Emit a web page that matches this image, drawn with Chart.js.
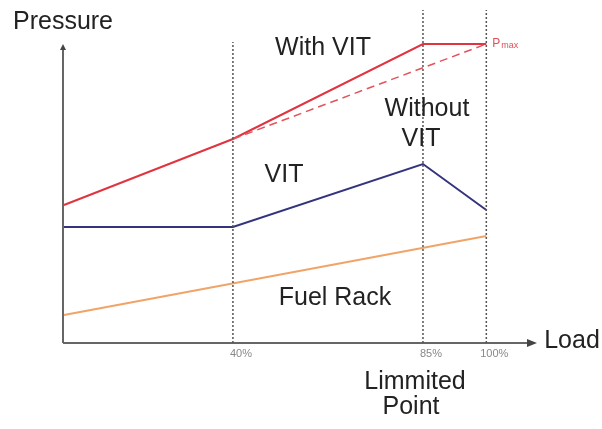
<!DOCTYPE html>
<html>
<head>
<meta charset="utf-8">
<script src="https://cdn.jsdelivr.net/npm/chart.js@4"></script>
<style>
  html, body { margin: 0; padding: 0; background: #fff; }
  #wrap { width: 602px; height: 429px; position: relative; }
</style>
</head>
<body>
<div id="wrap"><canvas id="graph"></canvas></div>
<script>
// load in %, pressure in arbitrary units (0 = load axis)
const loadWithVit = [0, 40, 85, 100];
const pressWithVit = [138, 204, 299, 299];
const loadWithoutVit = [40, 100];
const pressWithoutVit = [204, 299];
const loadVit = [0, 40, 85, 100];
const valueVit = [116, 116, 179, 133];
const loadRack = [0, 100];
const valueRack = [28, 107];
const markLoads = [40, 85, 100];
const markTops = [301, 333, 333];
const tickLabels = ['40%', '85%', '100%'];

const FONT = '"Liberation Sans", Arial, sans-serif';

function pts(xs, ys) {
    return xs.map((x, i) => ({x: x, y: ys[i]}));
}

const guides = markLoads.map((x, i) => ({
    data: [{x: x, y: 0}, {x: x, y: markTops[i]}],
    borderColor: '#555',
    borderWidth: 1.5,
    borderDash: [2, 2],
}));

const decorations = {
    id: 'decorations',
    beforeDatasetsDraw(chart) {
        const c = chart.ctx;
        const xs = chart.scales.x, ys = chart.scales.y;
        const x0 = xs.getPixelForValue(0) - 1;
        const y0 = ys.getPixelForValue(0);
        c.save();
        c.strokeStyle = '#666';
        c.fillStyle = '#444';
        c.lineWidth = 2;
        c.beginPath();
        c.moveTo(x0, y0);
        c.lineTo(x0, 48);
        c.moveTo(x0, y0);
        c.lineTo(528, y0);
        c.stroke();
        // arrow heads
        c.beginPath();
        c.moveTo(x0 - 3, 50);
        c.lineTo(x0, 44);
        c.lineTo(x0 + 3, 50);
        c.closePath();
        c.fill();
        c.beginPath();
        c.moveTo(527, y0 - 4);
        c.lineTo(537, y0);
        c.lineTo(527, y0 + 4);
        c.closePath();
        c.fill();
        c.restore();
    },
    afterDraw(chart) {
        const c = chart.ctx;
        const xs = chart.scales.x, ys = chart.scales.y;
        c.save();
        c.fillStyle = '#222';
        c.textAlign = 'center';
        c.textBaseline = 'middle';
        c.font = '25px ' + FONT;
        c.fillText('Pressure', 63, 22);
        c.fillText('With VIT', 323, 48);
        c.fillText('Without', 427, 109);
        c.fillText('VIT', 421, 139);
        c.fillText('VIT', 284, 175);
        c.fillText('Fuel Rack', 335, 298);
        c.fillText('Load', 572, 341);
        c.fillText('Limmited', 415, 382);
        c.fillText('Point', 411, 407);
        // tick labels
        c.fillStyle = '#888';
        c.font = '11px ' + FONT;
        markLoads.forEach((v, i) => {
            c.fillText(tickLabels[i], xs.getPixelForValue(v) + 8, ys.getPixelForValue(0) + 11);
        });
        // Pmax
        const px = xs.getPixelForValue(100) + 6;
        const py = ys.getPixelForValue(299);
        c.fillStyle = '#e0505a';
        c.textAlign = 'left';
        c.font = '12px ' + FONT;
        c.fillText('P', px, py);
        c.font = '9px ' + FONT;
        c.fillText('max', px + 9, py + 2);
        c.restore();
    }
};

new Chart(document.getElementById('graph'), {
    type: 'scatter',
    data: {
        datasets: [
            ...guides,
            {
                data: pts(loadRack, valueRack),
                borderColor: '#f0a468',
                borderWidth: 2,
            },
            {
                data: pts(loadVit, valueVit),
                borderColor: '#34347e',
                borderWidth: 2,
            },
            {
                data: pts(loadWithoutVit, pressWithoutVit),
                borderColor: '#e2545c',
                borderWidth: 1.5,
                borderDash: [8, 5],
            },
            {
                data: pts(loadWithVit, pressWithVit),
                borderColor: '#e03440',
                borderWidth: 2,
            },
        ]
    },
    plugins: [decorations],
    options: {
        responsive: true,
        maintainAspectRatio: false,
        animation: false,
        showLine: true,
        clip: false,
        layout: {padding: {left: 64, right: 65, top: 43, bottom: 86}},
        elements: {point: {radius: 0, hoverRadius: 0}, line: {tension: 0}},
        scales: {
            x: {type: 'linear', min: 0, max: 112, display: false},
            y: {type: 'linear', min: 0, max: 300, display: false},
        },
        plugins: {
            legend: {display: false},
            tooltip: {enabled: false},
        }
    }
});
</script>
</body>
</html>
